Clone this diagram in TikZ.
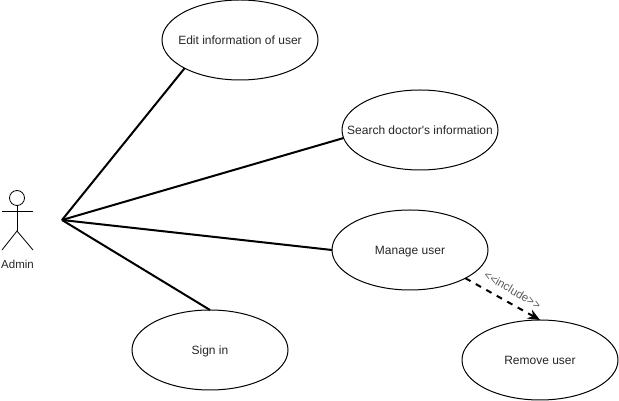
\documentclass[tikz,border=0pt]{standalone}
\usepackage{fontspec}
\setmainfont{Liberation Sans}
\usetikzlibrary{shapes.geometric,arrows.meta}
\definecolor{UCText}{HTML}{262626}
\tikzset{
  usecase/.style={draw,ellipse,minimum width=156pt,minimum height=80pt,inner xsep=-30pt,inner ysep=0pt,outer sep=0pt,line width=1pt,text=UCText,text height=10pt,text depth=0pt,font=\fontsize{12}{14}\selectfont},
  assoc/.style={line width=2pt},
  stick/.style={line width=0.8pt},
}
\begin{document}
\begin{tikzpicture}[x=1pt,y=1pt]
\path[use as bounding box] (0,0) rectangle (619,401);
% use cases
\node[usecase] (edit) at (240,361) {Edit information of user};
\node[usecase] (search) at (420,271) {Search doctor\textquotesingle s information};
\node[usecase] (manage) at (410,151) {Manage user};
\node[usecase] (signin) at (210,51) {Sign in};
\node[usecase] (remove) at (540,41) {Remove user};
% actor
\draw[stick] (17,203) circle (7.5);
\draw[stick] (17,195.5) -- (17,170);
\draw[stick] (2,190) -- (33,190);
\draw[stick] (2,151) -- (17,170) -- (33,151);
\node[text=UCText,font=\fontsize{11.5}{14}\selectfont] (admin) at (17.5,137) {Admin};
\coordinate (hub) at (62,181);
% connectors
\draw[assoc] (hub) -- (edit.207);
\draw[assoc] (hub) -- (search.186);
\draw[assoc] (hub) -- (manage.west);
\draw[assoc] (hub) -- (signin.north);
\draw[line width=2pt,dash pattern=on 6pt off 6pt,-{Stealth[length=12pt,width=10pt]}] (manage.333) -- (remove.north);
\node[rotate=-30,text=black!65,font=\fontsize{11.5}{14}\selectfont] (include) at (512.5,111) {<{}<include>{}>};
\end{tikzpicture}
\end{document}
